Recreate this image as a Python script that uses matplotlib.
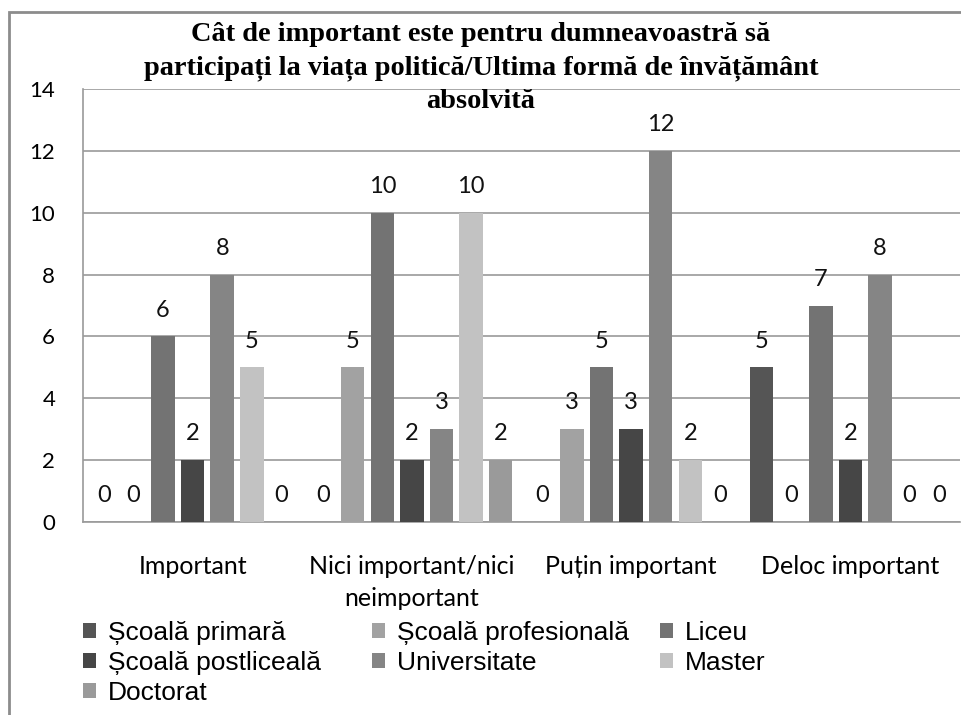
import numpy as np
import matplotlib.pyplot as plt
from matplotlib.patches import Rectangle

categories = ['Important', 'Nici important/nici\nneimportant', 'Puțin important', 'Deloc important']
series = ['Școală primară', 'Școală profesională', 'Liceu',
          'Școală postliceală', 'Universitate', 'Master', 'Doctorat']
scoala_primara = [0, 0, 0, 5]
scoala_profesionala = [0, 5, 3, 0]
liceu = [6, 10, 5, 7]
scoala_postliceala = [2, 2, 3, 2]
universitate = [8, 3, 12, 8]
master = [5, 10, 2, 0]
doctorat = [0, 2, 0, 0]
values = [scoala_primara, scoala_profesionala, liceu, scoala_postliceala,
          universitate, master, doctorat]
colors = ['#555555', '#a2a2a2', '#737373', '#464646', '#858585', '#c2c2c2', '#9a9a9a']

label_font = ['Lato', 'DejaVu Sans']
grid_col = '#9a9a9a'

fig = plt.figure(figsize=(9.62, 7.15), dpi=100)
ax = fig.add_axes([83 / 962, 1 - 522 / 715, 877 / 962, 433 / 715])

x = np.arange(len(categories))
step = 0.135
width = 0.107
bars = []
for i, (vals, col) in enumerate(zip(values, colors)):
    pos = x + (i - 3) * step
    b = ax.bar(pos, vals, width=width, color=col, label=series[i], zorder=3)
    bars.append(b)
    for p, v in zip(pos, vals):
        ax.text(p, v + 0.85, str(v), ha='center', va='center', fontsize=17,
                family=label_font, color='#111111', zorder=4)

ax.set_xlim(-0.5, 3.5)
ax.set_ylim(0, 14)
ax.set_yticks(range(0, 15, 2))
ax.yaxis.grid(True, color=grid_col, linewidth=1.2, zorder=0)
for s in ['top', 'right']:
    ax.spines[s].set_visible(False)
for s in ['bottom', 'left']:
    ax.spines[s].set_color(grid_col)
    ax.spines[s].set_linewidth(1.2)
ax.tick_params(axis='y', length=0, labelsize=16, pad=20)
ax.tick_params(axis='x', length=0, labelsize=18, pad=24)
ax.set_xticks(x)
ax.set_xticklabels(categories, linespacing=1.45)
for lbl in ax.get_xticklabels() + ax.get_yticklabels():
    lbl.set_family(label_font)

fig.text(0.5, 1 - 22 / 715,
         'Cât de important este pentru dumneavoastră să\nparticipați la viața politică/Ultima formă de învățământ\nabsolvită',
         ha='center', va='top', fontsize=20.4, fontweight='bold', family='Liberation Serif',
         linespacing=1.42, zorder=10)

# legend laid out row by row, one single-column legend per column
columns = [[0, 3, 6], [1, 4], [2, 5]]
col_x = [83, 372, 660]
for idxs, cx in zip(columns, col_x):
    fig.legend([bars[k] for k in idxs], [series[k] for k in idxs],
               loc='upper left', bbox_to_anchor=(cx / 962, 1 - 621 / 715),
               frameon=False, prop={'family': 'Liberation Sans', 'size': 19},
               handlelength=0.5, handleheight=0.5, handletextpad=0.45,
               labelspacing=0.22, borderaxespad=0, borderpad=0)

fig.patches.append(Rectangle((9 / 962, -0.1), 1.2, 1.1 - 12 / 715, transform=fig.transFigure,
                             fill=False, edgecolor='#8c8c8c', linewidth=2))

fig.savefig('out.png', dpi=100)
